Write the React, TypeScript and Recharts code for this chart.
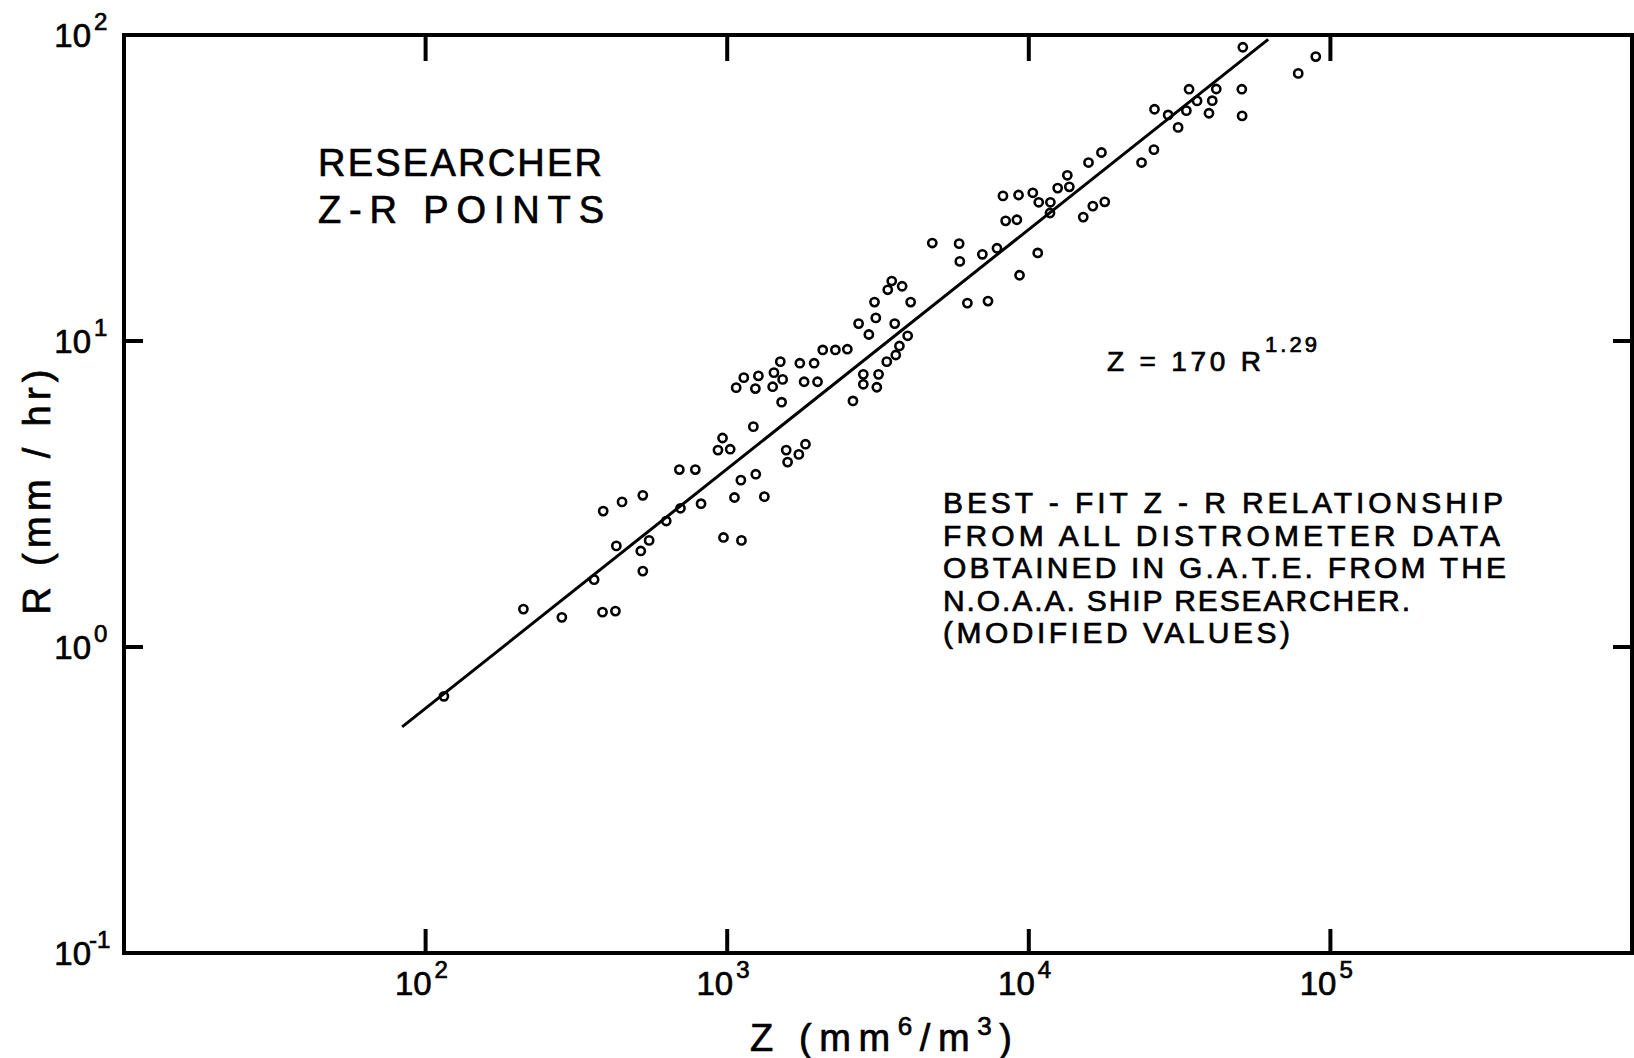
import { ScatterChart, Scatter, XAxis, YAxis } from 'recharts'

const W = 1634
const H = 1058
const FONT = '"Liberation Sans", Arial, sans-serif'

// plot frame edges (px)
const LEFT = 124
const TOP = 35
const RIGHT = 1632
const BOTTOM = 953

// Z (mm^6/m^3) of each Researcher point
const zValues = [
    115, 211, 283, 362, 386, 426, 429, 388, 448, 525,
    517, 551, 525, 628, 700, 819, 694, 784, 972, 1115,
    1057, 1110, 1244, 1328, 932, 1023, 965, 1221, 1569, 1586,
    1515, 1071, 1135, 1240, 1269, 1415, 1429, 1527, 1500, 1728,
    1818, 1741, 1799, 1942, 1993, 2074, 2284, 2502, 2612, 2827,
    2827, 3176, 3134, 2727, 2949, 3110, 3079, 3593, 3381, 3622,
    3724, 3966, 4058, 3407, 3512, 3802, 4786, 5875, 5906, 6257,
    7323, 7015, 7843, 9318, 10707, 8209, 9248, 10309, 8379, 9129,
    10790, 11792, 11757, 12465, 13626, 15152, 16303, 17858, 13420, 15776,
    17414, 23651, 25991, 26107, 28973, 31263, 33298, 33996, 36131, 39574,
    40580, 41832, 50850, 50967, 51240, 78220, 89440,
]

// R (mm/hr), same order as zValues
const rValues = [
    0.69, 1.33, 1.25, 1.66, 1.3, 1.31, 2.14, 2.78, 2.98, 3.13,
    2.06, 2.23, 1.77, 2.58, 2.84, 2.94, 3.8, 3.8, 2.28, 2.23,
    3.08, 3.51, 3.67, 3.1, 4.4, 4.43, 4.82, 5.25, 4.4, 4.02,
    6.31, 7.04, 7.59, 6.99, 7.69, 7.09, 7.88, 7.49, 8.56, 4.26,
    4.6, 8.46, 7.36, 8.46, 7.36, 9.35, 9.35, 9.4, 6.37, 7.78,
    7.22, 7.78, 7.06, 11.4, 10.5, 11.9, 13.4, 11.4, 8.56, 9.0,
    9.63, 10.4, 13.4, 14.7, 15.7, 15.1, 20.9, 20.8, 18.2, 13.3,
    13.5, 19.2, 20.1, 16.4, 19.4, 29.8, 30.0, 30.5, 24.7, 24.9,
    28.4, 28.4, 26.2, 31.6, 31.9, 25.4, 27.6, 28.5, 34.8, 38.3,
    41.3, 38.3, 42.2, 57.2, 54.8, 49.9, 56.6, 66.5, 60.9, 55.5,
    61.0, 66.6, 66.5, 54.4, 91.2, 74.9, 85.0,
]

// ends of the best-fit line Z = 170 R^1.29
const fitZ = [83.6, 62200]
const fitR = [0.548, 96.8]

const xTicks = [100, 1000, 10000, 100000]
const yTicks = [0.1, 1, 10, 100]
const innerYTicks = [1, 10]

const headingLines = ['RESEARCHER', 'Z-R   POINTS']
const noteLines = [
    'BEST - FIT  Z - R  RELATIONSHIP',
    'FROM  ALL  DISTROMETER  DATA',
    'OBTAINED  IN  G.A.T.E.  FROM  THE',
    'N.O.A.A.  SHIP  RESEARCHER.',
    '(MODIFIED  VALUES)',
]
const noteWidths = [560, 557, 563, 467, 347]

const points = zValues.map((z, i) => ({ z, r: rValues[i] }))
const fitLine = fitZ.map((z, i) => ({ z, r: fitR[i] }))

const exp10 = (v: number) => String(Math.round(Math.log10(v)))

// lettering on the original is heavier than a plain regular weight
const txt = { fontFamily: FONT, fill: '#000', stroke: '#000', strokeWidth: 0.7 }

const BottomTick = ({ x, payload }: any) => (
    <g>
        <line x1={x} x2={x} y1={BOTTOM} y2={BOTTOM - 24} stroke="#000" strokeWidth={4} />
        <text {...txt} x={x + 6} y={BOTTOM + 42} textAnchor="end" fontSize={33}>10</text>
        <text {...txt} x={x + 9} y={BOTTOM + 25} fontSize={24}>{exp10(payload.value)}</text>
    </g>
)

const TopTick = ({ x }: any) => (
    <line x1={x} x2={x} y1={TOP} y2={TOP + 26} stroke="#000" strokeWidth={4} />
)

const LeftTick = ({ y, payload }: any) => {
    const e = exp10(payload.value)
    const inner = innerYTicks.includes(payload.value)
    return (
        <g>
            {inner && <line x1={LEFT} x2={LEFT + 19} y1={y} y2={y} stroke="#000" strokeWidth={4} />}
            <text {...txt} x={LEFT - 33} y={y + 12} textAnchor="end" fontSize={33}>10</text>
            <text {...txt} x={e.length > 1 ? LEFT - 35 : LEFT - 30} y={y - 5} fontSize={24}>{e}</text>
        </g>
    )
}

const RightTick = ({ y }: any) => (
    <line x1={RIGHT} x2={RIGHT - 19} y1={y} y2={y} stroke="#000" strokeWidth={4} />
)

const Ring = ({ cx, cy }: any) => (
    <circle cx={cx} cy={cy} r={4.1} fill="none" stroke="#000" strokeWidth={2.6} />
)

const frame = { stroke: '#000', strokeWidth: 4, strokeLinecap: 'square' as const }

const logX = { type: 'number' as const, dataKey: 'z', scale: 'log' as const, domain: [10, 1000000], allowDataOverflow: true }
const logY = { type: 'number' as const, dataKey: 'r', scale: 'log' as const, domain: [0.1, 100], allowDataOverflow: true }

export default function App() {
    return (
        <div style={{ position: 'absolute', left: 0, top: 0, width: W, height: H, background: '#fff', overflow: 'hidden' }}>
            <ScatterChart width={W} height={H} margin={{ top: TOP - 1, right: W - RIGHT - 1, bottom: 0, left: 0 }}>
                <XAxis
                    xAxisId="b"
                    {...logX}
                    ticks={xTicks}
                    interval={0}
                    height={H - BOTTOM}
                    axisLine={frame}
                    tickLine={false}
                    tickSize={0}
                    tickMargin={0}
                    tick={<BottomTick />}
                />
                <XAxis
                    xAxisId="t"
                    orientation="top"
                    {...logX}
                    ticks={xTicks}
                    interval={0}
                    height={1}
                    axisLine={frame}
                    tickLine={false}
                    tickSize={0}
                    tickMargin={0}
                    tick={<TopTick />}
                />
                <YAxis
                    yAxisId="l"
                    {...logY}
                    ticks={yTicks}
                    interval={0}
                    width={LEFT}
                    axisLine={frame}
                    tickLine={false}
                    tickSize={0}
                    tickMargin={0}
                    tick={<LeftTick />}
                />
                <YAxis
                    yAxisId="r"
                    orientation="right"
                    {...logY}
                    ticks={innerYTicks}
                    interval={0}
                    width={1}
                    axisLine={frame}
                    tickLine={false}
                    tickSize={0}
                    tickMargin={0}
                    tick={<RightTick />}
                />
                {/* keeps the top and right frame axes bound to data */}
                <Scatter
                    xAxisId="t"
                    yAxisId="r"
                    data={points}
                    shape={() => <g />}
                    isAnimationActive={false}
                />
                <Scatter
                    xAxisId="b"
                    yAxisId="l"
                    data={fitLine}
                    line={{ stroke: '#000', strokeWidth: 3 }}
                    lineType="joint"
                    shape={() => <g />}
                    isAnimationActive={false}
                />
                <Scatter
                    xAxisId="b"
                    yAxisId="l"
                    data={points}
                    shape={<Ring />}
                    isAnimationActive={false}
                />
            </ScatterChart>
            <svg
                width={W}
                height={H}
                style={{ position: 'absolute', left: 0, top: 0, pointerEvents: 'none' }}
            >
                <g {...txt} style={{ whiteSpace: 'pre' }}>
                    <text x={318} y={176} fontSize={38} textLength={284} lengthAdjust="spacing">
                        {headingLines[0]}
                    </text>
                    <text x={318} y={223} fontSize={38} textLength={286} lengthAdjust="spacing">
                        {headingLines[1]}
                    </text>

                    <text x={1107} y={371} fontSize={28} textLength={154} lengthAdjust="spacing">Z = 170 R</text>
                    <text x={1265} y={352} fontSize={22} textLength={52} lengthAdjust="spacing">1.29</text>

                    {noteLines.map((line, i) => (
                        <text
                            key={i}
                            x={943}
                            y={513 + i * 32.5}
                            fontSize={30}
                            textLength={noteWidths[i]}
                            lengthAdjust="spacing"
                        >
                            {line}
                        </text>
                    ))}

                    <text x={750} y={1051} fontSize={38} textLength={262} lengthAdjust="spacing">
                        Z  (mm
                        <tspan fontSize={26} dy={-16}>6</tspan>
                        <tspan dy={16}>/m</tspan>
                        <tspan fontSize={26} dy={-16}>3</tspan>
                        <tspan dy={16}>)</tspan>
                    </text>

                    <text
                        x={50}
                        y={492}
                        fontSize={38}
                        textAnchor="middle"
                        textLength={245}
                        lengthAdjust="spacing"
                        transform="rotate(-90 50 492)"
                    >
                        R (mm / hr)
                    </text>
                </g>
            </svg>
        </div>
    )
}
